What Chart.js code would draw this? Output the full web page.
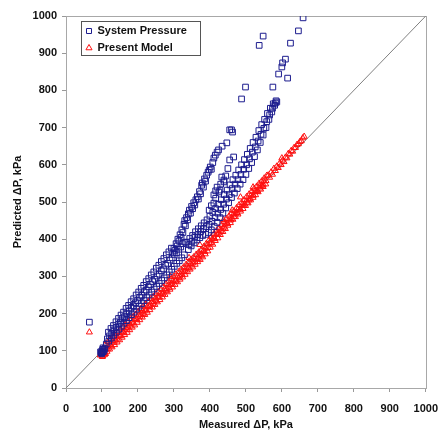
<!DOCTYPE html>
<html><head><meta charset="utf-8">
<script src="https://cdn.jsdelivr.net/npm/chart.js@4.4.0/dist/chart.umd.min.js"></script>
<style>html,body{margin:0;padding:0;background:#fff;}#wrap{width:448px;height:435px;}</style>
</head><body><div id="wrap"><canvas id="c" width="448" height="435"></canvas></div>
<script>
const axisMin = 0, axisMax = 1000, axisStep = 100;
const seriesNames = ['System Pressure', 'Present Model'];
const xTitle = 'Measured \u0394P, kPa';
const yTitle = 'Predicted \u0394P, kPa';
const refLineX = [0, 1000];
const refLineY = [0, 1000];

// System Pressure: [measured, predicted]
const spPoints = [
 [98,95],[100,100],[102,104],[104,98],[106,102],[103,108],[99,92],[108,106],[96,97],[101,96],
 [65,177],
 // merged band, upper row
 [118,150],[125,160],[132,168],[139,178],[146,187],[153,196],[160,204],[167,214],[174,222],[181,232],
 [188,240],[195,250],[202,258],[209,268],[216,276],[223,286],[230,294],[237,304],[244,312],[251,322],
 [258,330],[265,340],[272,348],[279,358],[286,366],[293,376],
 // merged band, middle row
 [115,132],[121,140],[127,147],[133,156],[139,162],[145,171],[151,177],[157,186],[163,192],[169,200],
 [175,207],[181,215],[187,221],[193,229],[199,235],[205,244],[211,249],[217,258],[223,263],[229,272],
 [235,278],[241,286],[247,292],[253,301],[259,306],[265,315],[271,320],[277,330],[283,335],[289,344],
 [295,350],[301,359],[307,364],[313,373],[319,379],[325,388],[331,392],
 // merged band, lower row
 [112,118],[119,126],[126,134],[133,142],[140,150],[147,158],[154,166],[161,174],[168,181],[175,189],
 [182,197],[189,204],[196,212],[203,220],[210,227],[217,235],[224,243],[231,250],[238,258],[245,266],
 [252,273],[259,281],[266,289],[273,296],[280,304],[287,312],[294,319],[301,327],[308,335],[315,342],
 [322,350],[329,358],
 // upper steep band
 [297,363],[300,375],[303,370],[306,388],[309,382],[311,400],[314,395],[317,412],[320,405],[322,425],
 [325,418],[328,440],[330,450],[332,436],[335,458],[338,452],[340,468],[343,478],[346,470],[349,488],
 [352,482],[355,498],[358,492],[361,506],[365,514],[368,508],[371,528],[374,522],[377,545],[379,551],
 [382,540],[385,562],[388,556],[391,572],[395,580],[398,586],[401,594],[404,588],[408,606],[411,618],
 [415,626],[420,634],[424,640],[447,659],[455,694],[460,694],[463,688],[466,621],[434,650],
 // middle cluster
 [398,478],[404,490],[411,497],[416,510],[411,519],[420,540],[425,527],[428,532],[433,567],[439,554],
 [439,559],[444,570],[450,590],[455,613],[416,530],[430,548],
 // lower band, three rows
 [340,372],[348,382],[356,390],[364,398],[372,404],[380,410],[388,413],[396,418],[404,425],[412,434],
 [420,445],[428,458],[436,470],[444,484],[452,498],[460,512],[468,524],[476,536],[484,548],[492,560],
 [500,574],[508,590],[516,606],[524,622],[532,640],[540,660],[548,680],[556,700],[564,722],[572,742],
 [580,760],
 [336,392],[344,402],[352,410],[360,420],[368,428],[376,436],[384,444],[392,452],[400,462],[408,472],
 [416,482],[424,494],[432,506],[440,520],[448,532],[456,546],[464,560],[472,572],[480,586],[488,600],
 [496,614],[504,628],[512,644],[520,660],[528,674],[536,692],[544,708],[552,722],[560,738],[568,752],
 [576,764],[584,772],
 [342,385],[350,394],[358,406],[366,412],[374,420],[382,428],[390,434],[398,440],[406,448],[414,458],
 [422,470],[430,480],[438,494],[446,508],[454,520],[462,536],[470,548],[478,560],[486,574],[494,588],
 [502,600],[510,616],[518,634],[526,648],[534,664],[542,682],[550,698],[558,716],[566,734],[574,752],
 [582,766],[586,769],
 // upper outliers
 [499,809],[488,777],[537,921],[548,946],[575,809],[591,844],[600,863],[602,874],[610,884],[616,833],
 [624,927],[646,960],[659,995]
];
const spMeasured = spPoints.map(p => p[0]);
const spPredicted = spPoints.map(p => p[1]);

// Present Model: [measured, predicted]
const pmPoints = [
 [95,88],[97,95],[99,90],[100,97],[102,86],[104,93],[105,99],[107,89],[108,95],[101,84],[98,99],[110,92],
 [65,150],
 // middle row
 [112,106],[118,115],[124,117],[130,127],[136,128],[142,138],[148,140],[154,150],[160,152],[166,162],
 [172,163],[178,173],[184,175],[190,185],[196,186],[202,196],[208,198],[214,208],[220,209],[226,219],
 [232,221],[238,231],[244,232],[250,242],[256,244],[262,254],[268,255],[274,265],[280,267],[286,277],
 [292,278],[298,288],[304,290],[310,300],[316,301],[322,311],[328,313],[334,323],[340,324],[346,334],
 [352,336],[358,346],[364,347],[370,357],[376,359],[382,369],[388,375],[394,386],[400,389],[406,400],
 [412,403],[418,414],[424,416],[430,427],[436,429],[442,440],[448,443],[454,454],[460,455],[466,467],
 [472,469],[478,480],[484,481],[490,492],[496,494],[502,505],[508,505],[514,518],[520,518],[526,530],
 [532,531],[538,543],[544,544],[550,556],[556,557],
 // upper row
 [110,118],[117,124],[124,131],[131,138],[138,146],[145,150],[152,158],[159,165],[166,172],[173,179],
 [180,186],[187,192],[194,198],[201,206],[208,213],[215,220],[222,225],[229,233],[236,240],[243,246],
 [250,253],[257,259],[264,266],[271,273],[278,280],[285,286],[292,293],[299,299],[306,306],[313,312],
 [320,319],[327,325],[334,332],[341,339],[348,346],[355,352],[362,359],[369,365],[376,372],[383,380],
 [390,388],[397,397],[404,406],[411,414],[418,422],[425,430],[432,438],[439,446],[446,455],[453,462],
 [460,470],[467,476],[474,484],[481,492],[488,498],[495,506],[502,514],[509,521],[516,528],[523,536],
 [530,542],[537,550],[544,556],[551,564],[558,571],
 // lower row
 [114,98],[121,104],[128,110],[135,116],[142,123],[149,129],[156,136],[163,143],[170,149],[177,156],
 [184,163],[191,169],[198,176],[205,183],[212,190],[219,197],[226,203],[233,210],[240,217],[247,224],
 [254,231],[261,237],[268,244],[275,251],[282,258],[289,265],[296,271],[303,278],[310,285],[317,292],
 [324,298],[331,305],[338,312],[345,319],[352,325],[359,332],[366,339],[373,345],[380,352],[387,360],
 [394,368],[401,378],[408,386],[415,396],[422,403],[429,412],[436,420],[443,428],[450,437],[457,444],
 [464,453],[471,460],[478,467],[485,475],[492,482],[499,490],[506,497],[513,505],[520,512],[527,519],
 [534,527],[541,534],[548,541],[555,548],
 // lower-middle row
 [116,105],[125,113],[134,122],[143,131],[152,140],[161,148],[170,157],[179,166],[188,174],[197,183],
 [206,192],[215,200],[224,209],[233,218],[242,226],[251,235],[260,244],[269,252],[278,261],[287,270],
 [296,278],[305,287],[314,296],[323,304],[332,313],[341,322],[350,330],[359,339],[368,348],[377,356],
 [386,366],[395,377],[404,390],[413,401],[422,412],[431,422],[440,432],[449,442],[458,451],[467,461],
 [476,471],[485,480],[494,490],[503,499],[512,509],[521,518],[530,528],[539,537],[548,547],
 // sparse top
 [562,572],[566,566],[570,580],[574,574],[578,590],[582,584],[586,596],[590,592],[594,604],[598,600],
 [602,612],[606,608],[610,620],[614,618],[618,630],[622,628],[626,638],[630,636],[634,646],[638,646],
 [642,654],[646,656],[650,662],[654,664],[658,672],[662,676],
 // scattered
 [485,513],[462,478],[438,452],[520,540],[600,618],[372,385],[342,350],[290,300]
];
const pmMeasured = pmPoints.map(p => p[0]);
const pmPredicted = pmPoints.map(p => p[1]);

const toXY = (xs, ys) => xs.map((x, i) => ({x: x, y: ys[i]}));

const frame = {
  id: 'frame',
  beforeDraw(chart) {
    if (chart.legend) {
      chart.legend.left = chart.chartArea.left + 14;
      chart.legend.top = chart.chartArea.top + 3.5;
    }
  },
  beforeDatasetsDraw(chart) {
    const a = chart.chartArea, ctx = chart.ctx;
    ctx.save();
    ctx.strokeStyle = '#a8a8a8';
    ctx.lineWidth = 1;
    ctx.strokeRect(Math.round(a.left) + 0.5, Math.round(a.top) + 0.5, Math.round(a.right - a.left), Math.round(a.bottom - a.top));
    ctx.restore();
  },
  afterDraw(chart) {
    const l = chart.legend, ctx = chart.ctx;
    ctx.save();
    ctx.strokeStyle = '#555';
    ctx.lineWidth = 1;
    ctx.strokeRect(Math.round(l.left) + 1.5, Math.round(l.top) + 1.5, 119, 34);
    ctx.restore();
  }
};

const tickFont = {family: 'Liberation Sans, Arial, sans-serif', size: 11, weight: 'bold'};

new Chart(document.getElementById('c'), {
  type: 'scatter',
  data: {
    datasets: [
      {label: seriesNames[0], data: toXY(spMeasured, spPredicted), pointStyle: 'rect', pointRadius: 4,
       borderColor: '#1c1c8e', backgroundColor: 'rgba(0,0,0,0)', borderWidth: 1, pointHoverRadius: 4},
      {label: seriesNames[1], data: toXY(pmMeasured, pmPredicted), pointStyle: 'triangle', pointRadius: 3.5,
       borderColor: '#ff1010', backgroundColor: 'rgba(0,0,0,0)', borderWidth: 1, pointHoverRadius: 3.5},
      {type: 'line', label: 'ref', data: toXY(refLineX, refLineY), borderColor: '#808080', borderWidth: 1,
       pointRadius: 0, fill: false, showLine: true}
    ]
  },
  options: {
    responsive: false,
    animation: false,
    devicePixelRatio: 1,
    layout: {padding: {top: 16, right: 15, left: 0, bottom: 0}},
    plugins: {
      tooltip: {enabled: false},
      legend: {
        position: 'chartArea', align: 'start',
        labels: {
          usePointStyle: true, boxWidth: 6, boxHeight: 5, padding: 6,
          font: tickFont, color: '#111',
          filter: item => item.datasetIndex < 2
        }
      }
    },
    scales: {
      x: {
        type: 'linear', min: axisMin, max: axisMax,
        ticks: {stepSize: axisStep, font: tickFont, color: '#111', padding: 10, maxRotation: 0, callback: v => String(v)},
        grid: {drawOnChartArea: false, tickLength: 4, color: '#999'},
        border: {color: '#a8a8a8'},
        title: {display: true, text: xTitle, font: tickFont, color: '#111', padding: {top: 0, bottom: 3}},
        afterFit: s => { s.height = 47; }
      },
      y: {
        type: 'linear', min: axisMin, max: axisMax,
        ticks: {stepSize: axisStep, font: tickFont, color: '#111', padding: 5, callback: v => String(v)},
        grid: {drawOnChartArea: false, tickLength: 4, color: '#999'},
        border: {color: '#a8a8a8'},
        title: {display: true, text: yTitle, font: tickFont, color: '#111', padding: {top: 11, bottom: 0}},
        afterFit: s => { s.width = 66; }
      }
    }
  },
  plugins: [frame]
});
</script></body></html>
